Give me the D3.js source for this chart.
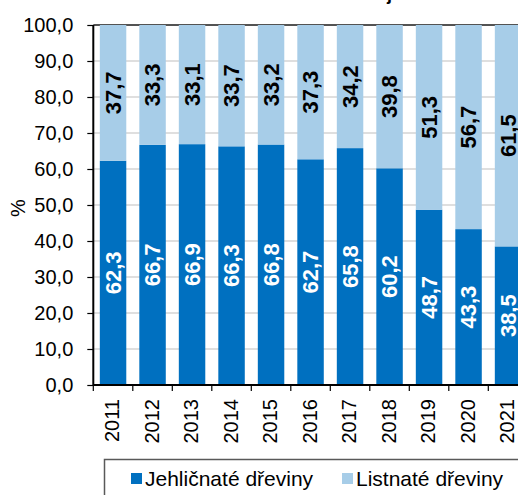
<!DOCTYPE html>
<html>
<head>
<meta charset="utf-8">
<script src="https://cdn.jsdelivr.net/npm/d3@7"></script>
<style>
  html, body { margin: 0; padding: 0; background: #fff; overflow: hidden; }
  svg { display: block; font-family: "Liberation Sans", Arial, Helvetica, sans-serif; }
</style>
</head>
<body>
<svg id="chart" width="518" height="495"></svg>
<script>
const years = ["2011","2012","2013","2014","2015","2016","2017","2018","2019","2020","2021"];
const jehlicnate = [62.3, 66.7, 66.9, 66.3, 66.8, 62.7, 65.8, 60.2, 48.7, 43.3, 38.5];
const listnate  = [37.7, 33.3, 33.1, 33.7, 33.2, 37.3, 34.2, 39.8, 51.3, 56.7, 61.5];
const yTicks = [0, 10, 20, 30, 40, 50, 60, 70, 80, 90, 100];
const seriesNames = ["Jehličnaté dřeviny", "Listnaté dřeviny"];
const titleText = "Těžba celkem za kraj";
const yLabel = "%";

const colDark = "#0070C0", colLight = "#A7CDE8";
const fmt = v => d3.format(".1f")(v).replace(".", ",");

const svg = d3.select("#chart");
const x0 = 93.3, step = 39.5;
const x = d3.scaleBand().domain(years)
  .range([x0, x0 + step * years.length])
  .paddingInner(0.33).paddingOuter(0.165);
const y = d3.scaleLinear().domain([0, 100]).range([385, 25]);
const [xl, xr] = x.range();

// title (cut off at top)
svg.append("text").attr("x", 303).attr("y", -0.5).attr("text-anchor", "middle")
  .attr("font-size", 18).attr("font-weight", "bold").text(titleText);

// gridlines
svg.append("g").selectAll("line").data(yTicks.filter(t => t > 0 && t < 100)).join("line")
  .attr("x1", xl).attr("x2", xr).attr("y1", d => y(d)).attr("y2", d => y(d))
  .attr("stroke", "#c0c0c0").attr("stroke-width", 1.2);
svg.append("line").attr("x1", xl).attr("x2", xr).attr("y1", y(100)).attr("y2", y(100))
  .attr("stroke", "#1a1a1a").attr("stroke-width", 1.5);

// bars
const rows = years.map((yr, i) => ({ yr, j: jehlicnate[i], l: listnate[i] }));
svg.append("g").selectAll("rect").data(rows).join("rect")
  .attr("x", d => x(d.yr)).attr("width", x.bandwidth())
  .attr("y", d => y(d.j)).attr("height", d => y(0) - y(d.j)).attr("fill", colDark);
svg.append("g").selectAll("rect").data(rows).join("rect")
  .attr("x", d => x(d.yr)).attr("width", x.bandwidth())
  .attr("y", d => y(d.j + d.l)).attr("height", d => y(d.j) - y(d.j + d.l)).attr("fill", colLight);

// value labels
const cx = d => x(d.yr) + x.bandwidth() / 2;
svg.append("g").selectAll("text").data(rows).join("text")
  .attr("transform", d => `translate(${cx(d)},${y(d.j / 2)}) rotate(-90)`)
  .attr("text-anchor", "middle").attr("dominant-baseline", "central")
  .attr("font-size", 22).attr("font-weight", "bold").attr("fill", "#fff")
  .text(d => fmt(d.j));
svg.append("g").selectAll("text").data(rows).join("text")
  .attr("transform", d => `translate(${cx(d)},${y(d.j + d.l / 2)}) rotate(-90)`)
  .attr("text-anchor", "middle").attr("dominant-baseline", "central")
  .attr("font-size", 22).attr("font-weight", "bold").attr("fill", "#000")
  .text(d => fmt(d.l));

// y axis
const yAxis = svg.append("g").attr("transform", `translate(${xl},0)`)
  .call(d3.axisLeft(y).tickValues(yTicks).tickFormat(fmt).tickSize(6).tickPadding(14));
yAxis.select(".domain").attr("stroke", "#000").attr("stroke-width", 2).attr("d", `M0,${y(0)}V${y(100)}`);
yAxis.selectAll(".tick line").attr("stroke", "#000").attr("stroke-width", 1.2);
yAxis.selectAll(".tick text").attr("font-size", 20).attr("fill", "#000")
  .attr("font-family", "Liberation Sans, Arial, sans-serif");

// x axis
const xAxis = svg.append("g").attr("transform", `translate(0,${y(0)})`)
  .call(d3.axisBottom(x).tickSize(0).tickFormat(""));
xAxis.select(".domain").attr("stroke", "#000").attr("stroke-width", 2).attr("d", `M${xl},0H${xr}`);
const bounds = d3.range(years.length + 1).map(i => xl + i * x.step());
svg.append("g").selectAll("line").data(bounds).join("line")
  .attr("x1", d => d).attr("x2", d => d).attr("y1", y(0)).attr("y2", y(0) + 6)
  .attr("stroke", "#000").attr("stroke-width", 1.2);
svg.append("g").selectAll("text").data(years).join("text")
  .attr("transform", d => `translate(${x(d) + x.bandwidth() / 2 - 1},399) rotate(-90)`)
  .attr("text-anchor", "end").attr("dominant-baseline", "central")
  .attr("font-size", 20).attr("fill", "#000").text(d => d);

// y label
svg.append("text").attr("transform", "translate(18,208) rotate(-90)")
  .attr("text-anchor", "middle").attr("dominant-baseline", "central")
  .attr("font-size", 20).text(yLabel);

// legend
svg.append("rect").attr("x", 104.5).attr("y", 459.5).attr("width", 500).attr("height", 80)
  .attr("fill", "#fff").attr("stroke", "#595959").attr("stroke-width", 1.5);
const legX = [131, 342], legC = [colDark, colLight];
seriesNames.forEach((n, i) => {
  svg.append("rect").attr("x", legX[i]).attr("y", 473).attr("width", 11).attr("height", 11).attr("fill", legC[i]);
  svg.append("text").attr("x", legX[i] + 14).attr("y", 485.5).attr("font-size", 21).attr("fill", "#000").text(n);
});
</script>
</body>
</html>
